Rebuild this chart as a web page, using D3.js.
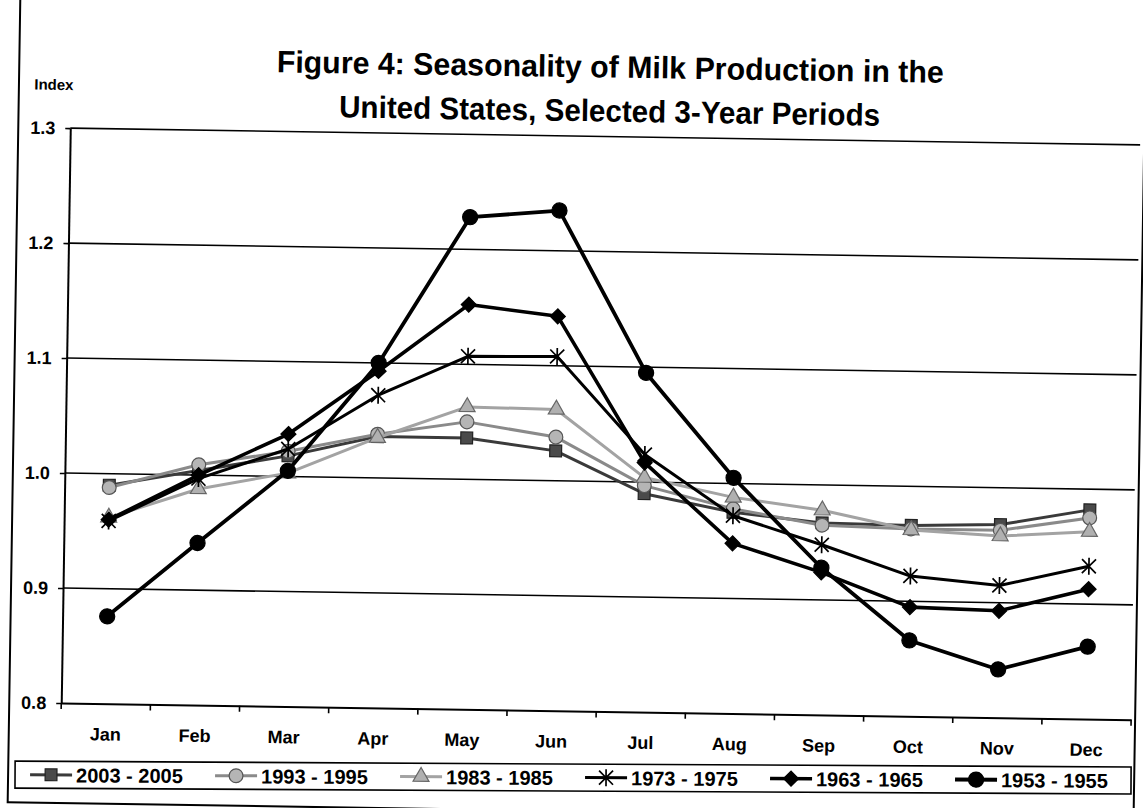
<!DOCTYPE html>
<html>
<head>
<meta charset="utf-8">
<script src="https://cdn.jsdelivr.net/npm/d3@7"></script>
<style>
  html, body { margin: 0; padding: 0; background: #fff; }
  svg { display: block; font-family: "Liberation Sans", Arial, sans-serif; }
</style>
</head>
<body>
<svg id="chart" width="1143" height="808"></svg>
<script>
// Monthly production index (annual average = 1.0), by 3-year period
const months = ["Jan", "Feb", "Mar", "Apr", "May", "Jun", "Jul", "Aug", "Sep", "Oct", "Nov", "Dec"];
const yTickValues = [0.8, 0.9, 1.0, 1.1, 1.2, 1.3];
const periodLabels = ["2003 - 2005", "1993 - 1995", "1983 - 1985", "1973 - 1975", "1963 - 1965", "1953 - 1955"];

const index2003 = [0.990, 1.004, 1.018, 1.036, 1.036, 1.026, 0.990, 0.975, 0.967, 0.966, 0.968, 0.982];
const index1993 = [0.988, 1.009, 1.022, 1.038, 1.050, 1.038, 0.997, 0.978, 0.965, 0.963, 0.963, 0.975];
const index1983 = [0.962, 0.988, 1.003, 1.035, 1.063, 1.062, 1.004, 0.988, 0.978, 0.962, 0.958, 0.963];
const index1973 = [0.959, 0.997, 1.024, 1.072, 1.107, 1.108, 1.024, 0.972, 0.948, 0.922, 0.915, 0.933];
const index1963 = [0.960, 1.000, 1.037, 1.093, 1.152, 1.143, 1.017, 0.948, 0.924, 0.895, 0.893, 0.913];
const index1953 = [0.876, 0.941, 1.005, 1.100, 1.228, 1.235, 1.095, 1.005, 0.928, 0.866, 0.842, 0.863];

const seriesValues = [index2003, index1993, index1983, index1973, index1963, index1953];

// Drawing style per series (same order as periodLabels)
const seriesStyle = [
  { line: "#3a3a3a", width: 3,   marker: "square",   fill: "#4a4a4a", stroke: "#222" },
  { line: "#8a8a8a", width: 3,   marker: "circle",   fill: "#b5b5b5", stroke: "#555" },
  { line: "#a3a3a3", width: 3,   marker: "triangle", fill: "#b0b0b0", stroke: "#666" },
  { line: "#000",    width: 3,   marker: "asterisk", fill: "none",    stroke: "#000" },
  { line: "#000",    width: 3.6, marker: "diamond",  fill: "#000",    stroke: "#000" },
  { line: "#000",    width: 3.8, marker: "dot",      fill: "#000",    stroke: "#000" }
];

const markerPath = {
  square:   d3.symbol().type(d3.symbolSquare).size(140)(),
  circle:   d3.symbol().type(d3.symbolCircle).size(150)(),
  triangle: d3.symbol().type(d3.symbolTriangle).size(110)(),
  asterisk: "M-7,-7L7,7M-7,7L7,-7M0,-8.5L0,8.5",
  diamond:  "M0,-7.5L7.5,0L0,7.5L-7.5,0Z",
  dot:      d3.symbol().type(d3.symbolCircle).size(180)()
};

const svg = d3.select("#chart");
svg.append("rect").attr("width", 1143).attr("height", 808).attr("fill", "#fff");

// the printed page sits slightly turned
const root = svg.append("g").attr("transform", "rotate(0.9 571 404)");

// outer chart frame
root.append("rect")
  .attr("x", 14).attr("y", -30).attr("width", 1126).attr("height", 841)
  .attr("fill", "none").attr("stroke", "#000").attr("stroke-width", 2);

const plot = { left: 66, right: 1136, top: 136, bottom: 711 };

const x = d3.scaleBand().domain(months).range([plot.left, plot.right]);
const y = d3.scaleLinear().domain([0.8, 1.3]).range([plot.bottom, plot.top]);
const cx = m => x(m) + x.bandwidth() / 2;

// title
const title = root.append("g")
  .attr("font-weight", "bold").attr("font-size", 31).attr("fill", "#000")
  .attr("text-anchor", "middle");
title.append("text").attr("x", 605).attr("y", 77)
  .attr("textLength", 667).attr("lengthAdjust", "spacingAndGlyphs")
  .text("Figure 4: Seasonality of Milk Production in the");
title.append("text").attr("x", 605).attr("y", 121)
  .attr("textLength", 541).attr("lengthAdjust", "spacingAndGlyphs")
  .text("United States, Selected 3-Year Periods");

// axis title
root.append("text")
  .attr("x", 49).attr("y", 98).attr("text-anchor", "middle")
  .attr("font-size", 15).attr("font-weight", "bold")
  .text("Index");

// horizontal gridlines (top one closes the plot area)
root.append("g").selectAll("line")
  .data(yTickValues.filter(v => v > 0.8))
  .join("line")
  .attr("x1", plot.left).attr("x2", plot.right)
  .attr("y1", d => y(d)).attr("y2", d => y(d))
  .attr("stroke", "#000").attr("stroke-width", 1.6);

// y axis
const yAxis = root.append("g")
  .attr("transform", `translate(${plot.left},0)`)
  .call(d3.axisLeft(y).tickValues(yTickValues).tickFormat(d3.format(".1f"))
    .tickSize(5).tickSizeOuter(0).tickPadding(10));
yAxis.select(".domain").attr("stroke", "#000").attr("stroke-width", 2);
yAxis.selectAll(".tick line").attr("stroke", "#000").attr("stroke-width", 1.6);
yAxis.selectAll(".tick text")
  .attr("font-size", 18).attr("font-weight", "bold").attr("fill", "#000")
  .attr("font-family", "Liberation Sans, Arial, sans-serif");

// x axis
const xAxis = root.append("g")
  .attr("transform", `translate(0,${plot.bottom})`)
  .call(d3.axisBottom(x).tickSize(0).tickSizeOuter(0).tickPadding(24));
xAxis.select(".domain").attr("stroke", "#000").attr("stroke-width", 2);
xAxis.selectAll(".tick text")
  .attr("font-size", 18).attr("font-weight", "bold").attr("fill", "#000")
  .attr("font-family", "Liberation Sans, Arial, sans-serif");
// tick marks between categories
xAxis.append("g").selectAll("line")
  .data(months.map(m => x(m)).concat([plot.right]))
  .join("line")
  .attr("x1", d => d).attr("x2", d => d)
  .attr("y1", 0).attr("y2", 6)
  .attr("stroke", "#000").attr("stroke-width", 1.6);

// series lines and markers
const lineGen = d3.line().x((d, i) => cx(months[i])).y(d => y(d));

seriesValues.forEach((vals, si) => {
  const st = seriesStyle[si];
  const g = root.append("g");
  g.append("path")
    .attr("d", lineGen(vals))
    .attr("fill", "none")
    .attr("stroke", st.line)
    .attr("stroke-width", st.width)
    .attr("stroke-linejoin", "round");
  g.selectAll("path.mk")
    .data(vals)
    .join("path")
    .attr("class", "mk")
    .attr("transform", (d, i) => `translate(${cx(months[i])},${y(d)})`)
    .attr("d", markerPath[st.marker])
    .attr("fill", st.fill)
    .attr("stroke", st.stroke)
    .attr("stroke-width", st.marker === "asterisk" ? 1.7 : 1.2);
});

// legend (sits a little flatter than the plot on the page)
const legendGroup = svg.append("g").attr("transform", "rotate(0.3 571 404)");
const legend = { left: 17, top: 764, width: 1116, height: 27, firstItem: 32, itemStep: 185 };
legendGroup.append("rect")
  .attr("x", legend.left).attr("y", legend.top)
  .attr("width", legend.width).attr("height", legend.height)
  .attr("fill", "#fff").attr("stroke", "#000").attr("stroke-width", 1.6);

const legendY = legend.top + legend.height / 2;
const items = legendGroup.append("g").selectAll("g")
  .data(periodLabels)
  .join("g")
  .attr("transform", (d, i) => `translate(${legend.firstItem + i * legend.itemStep},${legendY})`);

items.append("line")
  .attr("x1", 0).attr("x2", 42).attr("y1", 0).attr("y2", 0)
  .attr("stroke", (d, i) => seriesStyle[i].line)
  .attr("stroke-width", (d, i) => seriesStyle[i].width);
items.append("path")
  .attr("transform", "translate(21,0)")
  .attr("d", (d, i) => markerPath[seriesStyle[i].marker])
  .attr("fill", (d, i) => seriesStyle[i].fill)
  .attr("stroke", (d, i) => seriesStyle[i].stroke)
  .attr("stroke-width", (d, i) => seriesStyle[i].marker === "asterisk" ? 1.7 : 1.2);
items.append("text")
  .attr("x", 46).attr("y", 7.5)
  .attr("font-size", 20).attr("font-weight", "bold")
  .text(d => d);
</script>
</body>
</html>
